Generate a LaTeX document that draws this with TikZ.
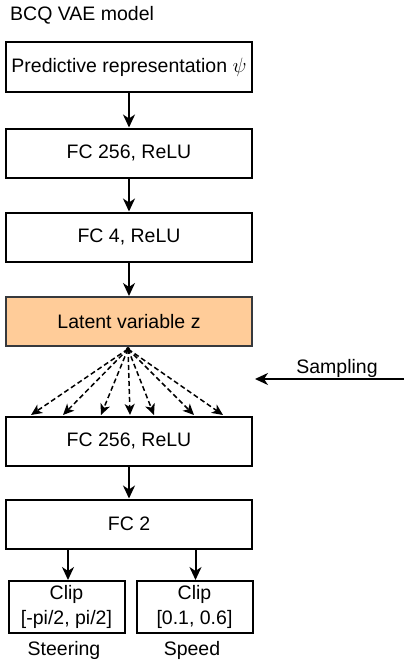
\documentclass[tikz,border=0pt]{standalone}
\usepackage{fontspec}
\setmainfont{Liberation Sans}
\usetikzlibrary{arrows.meta}
\begin{document}
\begin{tikzpicture}[x=1pt,y=-1pt,
  font=\fontsize{19.5}{25}\selectfont,
  blk/.style={draw=black,line width=2pt,minimum width=246pt,minimum height=49pt,inner sep=0pt,align=center},
  clipbox/.style={draw=black,line width=2pt,minimum width=116pt,minimum height=52pt,inner sep=0pt,align=center},
  flow/.style={line width=2pt,-{Stealth[length=13pt,width=12pt,inset=4pt]}},
  samp/.style={line width=1.5pt,dashed,dash pattern=on 5pt off 3pt,-{Stealth[length=11pt,width=10pt,inset=3pt]}},
  lbl/.style={inner sep=0pt}]
\useasboundingbox (0,0) rectangle (410,661);
\node[lbl,anchor=west] (title) at (10,15) {BCQ VAE model};
\node[blk] (pred) at (129,67) {Predictive representation $\psi$};
\node[blk] (fc1) at (129,153) {FC 256, ReLU};
\node[blk] (fc2) at (129,237) {FC 4, ReLU};
\node[blk,fill={rgb,255:red,255;green,204;blue,153},draw={rgb,255:red,54;green,57;blue,61}] (lat) at (129,321.5) {Latent variable z};
\node[blk] (fc3) at (129,441) {FC 256, ReLU};
\node[blk] (fc4) at (129,524) {FC 2};
\node[clipbox] (c1) at (66.5,607) {Clip\\{[-pi/2, pi/2]}};
\node[clipbox] (c2) at (194.5,607) {Clip\\{[0.1, 0.6]}};
\node[lbl] (steer) at (64,650) {Steering};
\node[lbl] (speed) at (192,650) {Speed};
\node[lbl] (samptxt) at (337,368) {Sampling};
\coordinate (sampR) at (404,379);
\coordinate (sampL) at (255,379);
\draw[flow] (pred.south) -- (fc1.north);
\draw[flow] (fc1.south) -- (fc2.north);
\draw[flow] (fc2.south) -- (lat.north);
\draw[flow] (fc3.south) -- (fc4.north);
\draw[flow] ([xshift=1.5pt]c1.north |- fc4.south) -- ([xshift=1.5pt]c1.north);
\draw[flow] ([xshift=1pt]c2.north |- fc4.south) -- ([xshift=1pt]c2.north);
\draw[flow] (sampR) -- (sampL);
\coordinate (src) at (128,349);
\fill (src) circle (2pt);
\foreach \xx in {30,62,100,129,153,193,222}{
  \draw[samp] (src) -- (\xx-128+129,415);
}
\end{tikzpicture}
\end{document}
